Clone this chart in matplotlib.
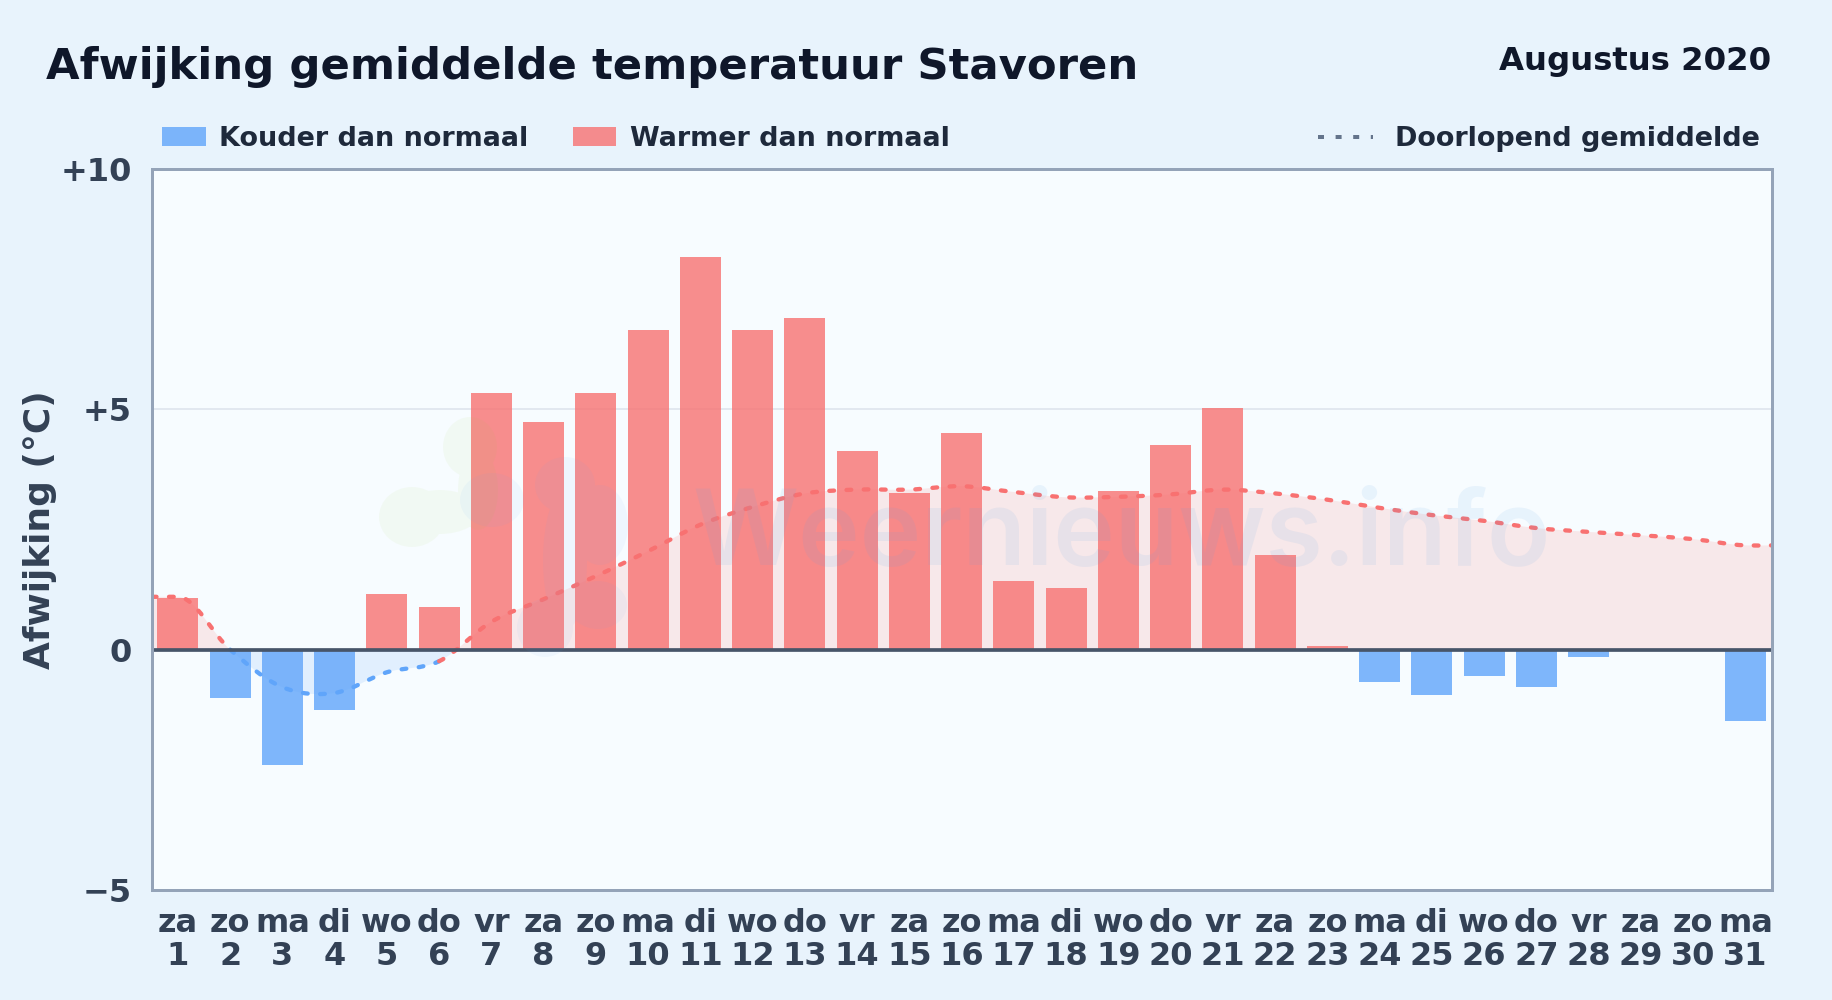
import numpy as np
import matplotlib
matplotlib.use("Agg")
import matplotlib.pyplot as plt
from matplotlib.path import Path
from matplotlib.patches import PathPatch, Rectangle

weekdays = ["za","zo","ma","di","wo","do","vr","za","zo","ma","di","wo","do","vr","za","zo","ma","di","wo","do","vr","za","zo","ma","di","wo","do","vr","za","zo","ma"]
days = list(range(1, 32))
afwijking = [1.08,-1.0,-2.4,-1.26,1.16,0.89,5.35,4.73,5.35,6.65,8.17,6.65,6.9,4.13,3.26,4.5,1.43,1.29,3.3,4.25,5.03,1.97,0.08,-0.67,-0.94,-0.54,-0.78,-0.15,0.0,0.0,-1.48]
gemiddelde_x = [0.5] + days + [31.5]
gemiddelde = [1.1,1.1,0.0,-0.78,-0.9,-0.47,-0.24,0.58,1.05,1.53,2.05,2.6,2.97,3.25,3.33,3.33,3.4,3.28,3.17,3.18,3.23,3.33,3.25,3.12,2.95,2.8,2.68,2.53,2.45,2.38,2.3,2.17,2.17]
yticks = [-5, 0, 5, 10]
ytick_labels = ["\u22125", "0", "+5", "+10"]

W, H = 1832, 1000
BG, PLOT = "#e8f3fc", "#f7fcff"
RED, BLUE = "#f87171", "#60a5fa"
plt.rcParams["font.family"] = "DejaVu Sans"
plt.rcParams["font.weight"] = "bold"

fig = plt.figure(figsize=(W/100, H/100), dpi=100, facecolor=BG)
def X(x): return x/W
def Y(y): return 1-y/H
def pt(px): return px*0.72

ax = fig.add_axes([X(151.8), Y(890), 1619.7/W, 721/H], facecolor=PLOT)
ax.set_xlim(0.5, 31.5)
ax.set_ylim(-5, 10)

ax.axhline(5, color="#e2e8f0", lw=pt(2), zorder=1)

colors = [RED if v >= 0 else BLUE for v in afwijking]
ax.bar(days, afwijking, width=0.785, color=colors, alpha=0.8, zorder=3, linewidth=0)

# smooth curve through the read values
x = np.array(gemiddelde_x, float); y = np.array(gemiddelde, float)
m = np.gradient(y, x)
m[0] = m[1] = 0
def seg_path(i0, i1):
    v = [(x[i0], y[i0])]; c = [Path.MOVETO]
    for i in range(i0, i1):
        d = (x[i+1]-x[i])/3
        v += [(x[i]+d, y[i]+m[i]*d), (x[i+1]-d, y[i+1]-m[i+1]*d), (x[i+1], y[i+1])]
        c += [Path.CURVE4]*3
    return v, c

v, c = seg_path(0, len(x)-1)
v2 = v + [(x[-1], 0), (x[0], 0), (x[0], y[0])]
c2 = c + [Path.LINETO, Path.LINETO, Path.CLOSEPOLY]
for col, rect in ((RED, (0.5, 0, 31, 10)), (BLUE, (0.5, -5, 31, 5))):
    p = PathPatch(Path(v2, c2), facecolor=col, alpha=0.14, lw=0, zorder=2)
    ax.add_patch(p)
    p.set_clip_path(Rectangle(rect[:2], rect[2], rect[3], transform=ax.transData))

lw = pt(4.3)
dash = (0, (1.1, 2.9))
for i0, i1, col in ((0, 2, RED), (2, 6, BLUE), (6, len(x)-1, RED)):
    vv, cc = seg_path(i0, i1)
    ax.add_patch(PathPatch(Path(vv, cc), fill=False, edgecolor=col, lw=lw, linestyle=dash,
                           capstyle="round", zorder=5, clip_on=True))

ax.axhline(0, color="#475569", lw=pt(3.7), zorder=6)

for s in ax.spines.values():
    s.set_color("#94a3b8"); s.set_linewidth(pt(3)); s.set_zorder(7)

ax.set_yticks(yticks, ytick_labels)
ax.set_xticks(days, [f"{w}\n{d}" for w, d in zip(weekdays, days)])
ax.tick_params(axis="both", length=0, labelcolor="#334155", labelsize=pt(32))
ax.tick_params(axis="x", pad=pt(17.5))
ax.tick_params(axis="y", pad=pt(20))
for t in ax.get_xticklabels():
    t.set_linespacing(1.1)

fig.text(X(40), Y(530), "Afwijking (\u00b0C)", rotation=90, ha="center", va="center",
         color="#334155", fontsize=pt(36))
fig.text(X(46), Y(79), "Afwijking gemiddelde temperatuur Stavoren", color="#0f172a",
         fontsize=pt(43.4), va="baseline", ha="left")
fig.text(X(1771), Y(70), "Augustus 2020", color="#0f172a", fontsize=pt(32.4), va="baseline", ha="right")

for x0, x1, col, tx, label in ((162, 206, BLUE, 219, "Kouder dan normaal"), (573, 616, RED, 630, "Warmer dan normaal")):
    fig.add_artist(Rectangle((X(x0), Y(146)), (x1-x0)/W, 19/H, transform=fig.transFigure,
                             facecolor=col, alpha=0.8, lw=0))
    fig.text(X(tx), Y(146), label, color="#1e293b", fontsize=pt(27.05), va="baseline", ha="left")
fig.add_artist(plt.Line2D([X(1318), X(1373)], [Y(137), Y(137)], color="#64748b", lw=pt(4),
                          linestyle=(0, (1.5, 2.9)), dash_capstyle="butt"))
fig.text(X(1395), Y(146), "Doorlopend gemiddelde", color="#1e293b", fontsize=pt(27.05), va="baseline", ha="left")

# watermark
def blob(circles, col, a):
    paths = []
    for cx, cy, rx, ry in circles:
        t = Path.unit_circle()
        vv = t.vertices*[rx/W, ry/H] + [X(cx), Y(cy)]
        paths.append(Path(vv, t.codes))
    fig.add_artist(PathPatch(Path.make_compound_path(*paths), facecolor=col, alpha=a, lw=0,
                             transform=fig.transFigure, zorder=8))
blob([(412,517,33,30),(440,512,40,22),(470,447,27,30),(478,490,20,40)], "#a0d040", 0.06)
blob([(492,500,32,27),(565,485,30,28),(600,525,28,40),(545,628,28,29),(598,605,29,24),(565,560,22,70)], "#60a5fa", 0.06)
fig.text(X(692), Y(565), "Weernieuws.info", family="Inter", color="#5fa5e8", alpha=0.10, fontsize=pt(104),
         fontweight=600, va="baseline", ha="left", zorder=9)

fig.savefig("out.png", dpi=100, facecolor=BG)
